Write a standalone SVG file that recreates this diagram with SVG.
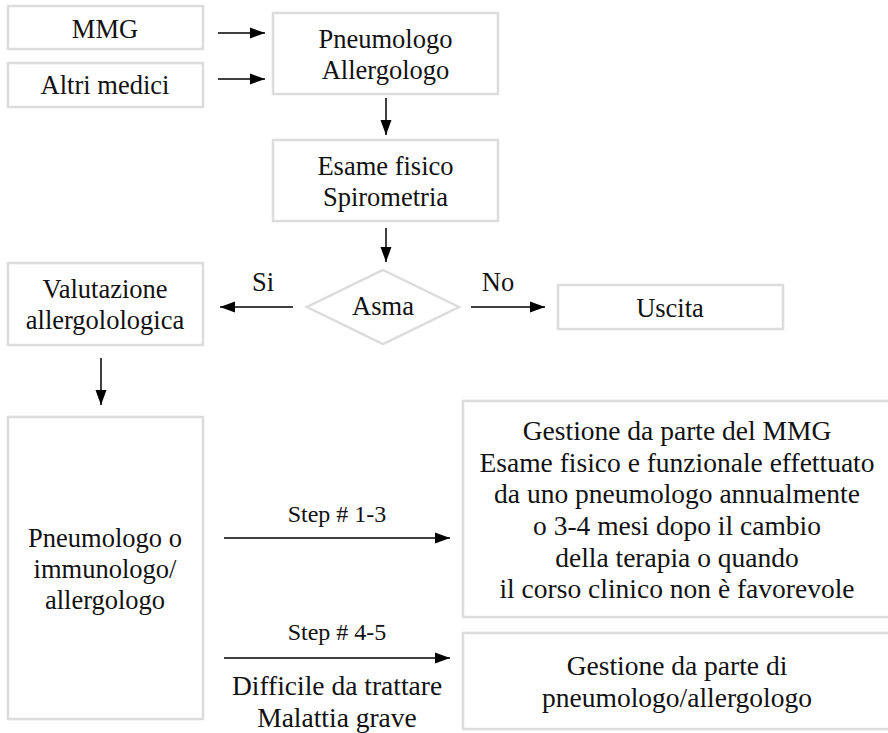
<svg xmlns="http://www.w3.org/2000/svg" width="888" height="733" viewBox="0 0 888 733">
<defs>
<marker id="ah" markerUnits="userSpaceOnUse" markerWidth="16" markerHeight="12" refX="15" refY="6" orient="auto">
<path d="M0,0.5 L15,6 L0,11.5 Z" fill="#000"/>
</marker>
<style>
.box{fill:#fff;stroke:#dcdcdc;stroke-width:2.5}
.t{font-size:26.5px;fill:#111;text-anchor:middle}
.s{font-size:24px}
.w{font-size:27.5px}
.c{stroke:#000;stroke-width:1.5;fill:none;marker-end:url(#ah)}
</style>
</defs>
<rect width="888" height="733" fill="#fff"/>
<g font-family="'Liberation Serif', 'Times New Roman', Tinos, 'DejaVu Serif', serif">
<g id="connectors">
<line class="c" x1="218" y1="33" x2="265" y2="33"/>
<line class="c" x1="218" y1="79" x2="265" y2="79"/>
<line class="c" x1="386" y1="98" x2="386" y2="135"/>
<line class="c" x1="386" y1="228" x2="386" y2="262"/>
<line class="c" x1="293" y1="307" x2="220" y2="307"/>
<line class="c" x1="471" y1="307" x2="545" y2="307"/>
<line class="c" x1="101" y1="358" x2="101" y2="405"/>
<line class="c" x1="224" y1="538" x2="450" y2="538"/>
<line class="c" x1="224" y1="658" x2="450" y2="658"/>
<text class="t" x="263" y="291">Si</text>
<text class="t" x="498" y="291">No</text>
<text class="t s" x="337" y="522">Step # 1-3</text>
<text class="t s" x="337" y="640">Step # 4-5</text>
<text class="t w" x="337" y="695">Difficile da trattare</text>
<text class="t w" x="337" y="727">Malattia grave</text>
</g>
<g id="mmg">
<rect class="box" x="8" y="6" width="195" height="43"/>
<text class="t" x="105" y="38">MMG</text>
</g>
<g id="altri">
<rect class="box" x="8" y="63" width="195" height="44"/>
<text class="t" x="105" y="94">Altri medici</text>
</g>
<g id="pneumo-allergo">
<rect class="box" x="273" y="13" width="225" height="81"/>
<text class="t" x="385.5" y="48">Pneumologo</text>
<text class="t" x="385.5" y="79">Allergologo</text>
</g>
<g id="esame">
<rect class="box" x="273" y="140" width="225" height="81"/>
<text class="t" x="385.5" y="175">Esame fisico</text>
<text class="t" x="385.5" y="206">Spirometria</text>
</g>
<g id="asma">
<polygon class="box" points="383,270 459,307 383,344 307,307"/>
<text class="t" x="383" y="315">Asma</text>
</g>
<g id="valutazione">
<rect class="box" x="8" y="263" width="195" height="82"/>
<text class="t" x="105" y="298">Valutazione</text>
<text class="t" x="105" y="329">allergolologica</text>
</g>
<g id="uscita">
<rect class="box" x="558" y="285" width="225" height="44"/>
<text class="t" x="670" y="317">Uscita</text>
</g>
<g id="pneumo-immuno">
<rect class="box" x="8" y="417" width="195" height="302"/>
<text class="t" x="105" y="547">Pneumologo o</text>
<text class="t" x="105" y="578">immunologo/</text>
<text class="t" x="105" y="609">allergologo</text>
</g>
<g id="gestione-mmg">
<rect class="box" x="463" y="401" width="430" height="216"/>
<text class="t w" x="677" y="440">Gestione da parte del MMG</text>
<text class="t w" x="677" y="472">Esame fisico e funzionale effettuato</text>
<text class="t w" x="677" y="503">da uno pneumologo annualmente</text>
<text class="t w" x="677" y="535">o 3-4 mesi dopo il cambio</text>
<text class="t w" x="677" y="567">della terapia o quando</text>
<text class="t w" x="677" y="598">il corso clinico non è favorevole</text>
</g>
<g id="gestione-pneumo">
<rect class="box" x="463" y="633" width="430" height="96"/>
<text class="t w" x="677" y="675">Gestione da parte di</text>
<text class="t w" x="677" y="707">pneumologo/allergologo</text>
</g>
</g>
</svg>
